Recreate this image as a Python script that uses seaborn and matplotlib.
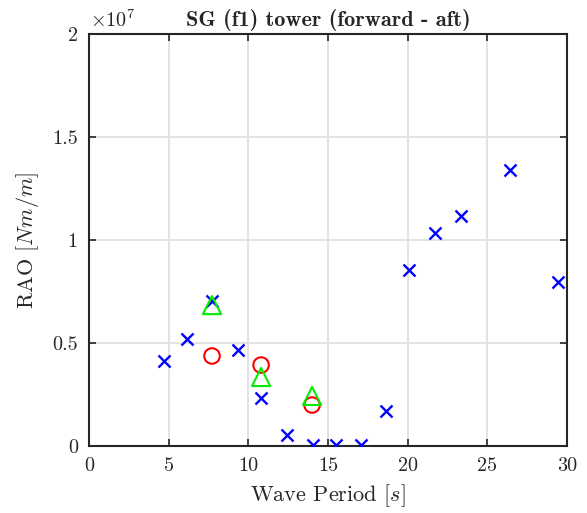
import numpy as np
import pandas as pd
import matplotlib
matplotlib.use("Agg")
import matplotlib.pyplot as plt
import seaborn as sns

# data (RAO in Nm/m)
period_x = [4.71, 6.15, 7.72, 9.35, 10.80, 12.43, 14.06, 15.50, 17.07, 18.64, 20.09, 21.72, 23.35, 26.43, 29.44]
rao_x = [4.13e6, 5.19e6, 7.04e6, 4.66e6, 2.33e6, 0.53e6, 0.05e6, 0.05e6, 0.05e6, 1.70e6, 8.54e6, 10.34e6, 11.17e6, 13.40e6, 7.96e6]

period_o = [7.72, 10.80, 14.00]
rao_o = [4.37e6, 3.93e6, 1.99e6]

period_tri = [7.72, 10.80, 14.00]
rao_tri = [6.84e6, 3.35e6, 2.43e6]

sns.set_style("whitegrid")
# LaTeX-looking text (Computer Modern ships with matplotlib)
plt.rcParams['font.family'] = ['cmr10', 'DejaVu Serif']
plt.rcParams['mathtext.fontset'] = 'cm'
plt.rcParams['axes.unicode_minus'] = False

fig = plt.figure(figsize=(5.87, 5.13), dpi=100)
ax = fig.add_axes([0.1516, 0.1306, 0.8144, 0.8031])

df_x = pd.DataFrame({"T": period_x, "RAO": rao_x})
df_o = pd.DataFrame({"T": period_o, "RAO": rao_o})
df_t = pd.DataFrame({"T": period_tri, "RAO": rao_tri})

sns.scatterplot(data=df_x, x="T", y="RAO", marker="x", color="#0000ff", s=75, linewidth=1.7, ax=ax, zorder=3)
sns.scatterplot(data=df_o, x="T", y="RAO", marker="o", facecolor="none", edgecolor="#ff0000", s=125, linewidth=1.5, ax=ax, zorder=3)
sns.scatterplot(data=df_t, x="T", y="RAO", marker="^", facecolor="none", edgecolor="#00ee00", s=170, linewidth=1.5, ax=ax, zorder=3)

ax.set_xlim(0, 30)
ax.set_ylim(0, 2e7)
ax.set_xticks(np.arange(0, 31, 5))
ax.set_xticklabels([str(v) for v in range(0, 31, 5)])
ax.set_yticks(np.arange(0, 2.01e7, 0.5e7))
ax.set_yticklabels(["0", "0.5", "1", "1.5", "2"])
ax.text(0.002, 1.008, r"$\times10^{7}$", transform=ax.transAxes, fontsize=14.5, ha="left", va="bottom", color="#262626")

ax.grid(True, color="#e3e3e3", linewidth=1.4)
for sp in ax.spines.values():
    sp.set_color("#262626")
    sp.set_linewidth(1.5)
ax.tick_params(direction="in", length=5, width=1.2, colors="#262626", labelsize=14.5, pad=8,
               top=True, right=True, bottom=True, left=True)
ax.tick_params(axis="both", labeltop=False, labelright=False)

ax.set_xlabel(r"Wave Period [$s$]", fontsize=16, color="#262626", labelpad=5)
ax.set_ylabel(r"RAO [$Nm/m$]", fontsize=16, color="#262626", labelpad=8)
ax.set_title("SG (f1) tower (forward - aft)", fontsize=16, fontfamily="cmb10", pad=6)

fig.savefig("out.png", dpi=100)
